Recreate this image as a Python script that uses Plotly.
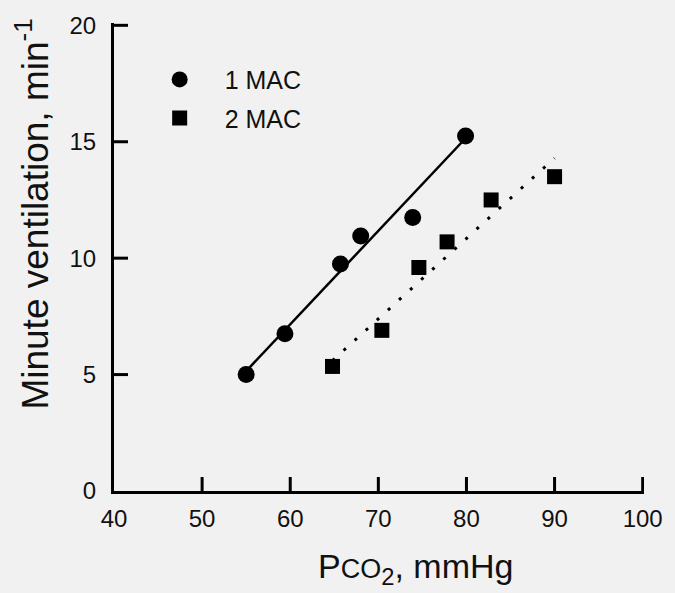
import plotly.graph_objects as go

# Data
mac1_x = [55.0, 59.4, 65.7, 68.0, 73.9, 79.9]
mac1_y = [5.0, 6.75, 9.75, 10.95, 11.75, 15.25]
mac2_x = [64.8, 70.4, 74.6, 77.8, 82.8, 90.0]
mac2_y = [5.35, 6.9, 9.6, 10.7, 12.5, 13.5]

fit1_x = [55.0, 79.9]
fit1_y = [5.15, 15.15]
fit2_x = [64.8, 90.0]
fit2_y = [5.6, 14.3]

x_ticks = [40, 50, 60, 70, 80, 90, 100]
y_ticks = [0, 5, 10, 15, 20]

FONT = "Liberation Sans, Arial, Helvetica, sans-serif"
BG = "#f1f1f1"
TICK_LEN = 14

fig = go.Figure()
fig.add_trace(go.Scatter(x=fit1_x, y=fit1_y, mode="lines",
                         line=dict(color="black", width=2.5),
                         showlegend=False, hoverinfo="skip"))
fig.add_trace(go.Scatter(x=fit2_x, y=fit2_y, mode="lines",
                         line=dict(color="black", width=3, dash="3px,12px"),
                         showlegend=False, hoverinfo="skip"))
fig.add_trace(go.Scatter(x=mac1_x, y=mac1_y, mode="markers", name="1 MAC",
                         legendgroup="a",
                         marker=dict(symbol="circle", size=17, color="black")))
fig.add_trace(go.Scatter(x=mac2_x, y=mac2_y, mode="markers", name="2 MAC",
                         legendgroup="b",
                         marker=dict(symbol="square", size=15, color="black")))

# inward tick marks at the axis tick values (the origin ones sit on the axis lines)
for v in x_ticks[1:]:
    fig.add_shape(type="line", xref="x", yref="paper", x0=v, x1=v,
                  ysizemode="pixel", yanchor=0, y0=0, y1=TICK_LEN,
                  line=dict(color="black", width=3), layer="above")
for v in y_ticks[1:]:
    fig.add_shape(type="line", yref="y", xref="paper", y0=v, y1=v,
                  xsizemode="pixel", xanchor=0, x0=0, x1=TICK_LEN,
                  line=dict(color="black", width=3), layer="above")

fig.update_layout(
    width=675, height=593,
    margin=dict(l=114, r=24, t=21, b=102),
    paper_bgcolor=BG, plot_bgcolor=BG,
    showlegend=True,
    legend=dict(x=0.039, y=0.928, xanchor="left", yanchor="top",
                bgcolor="rgba(0,0,0,0)", itemwidth=80,
                tracegroupgap=3, traceorder="grouped",
                font=dict(family=FONT, size=25, color="#111")),
    xaxis=dict(range=[40, 100.15], tickmode="array", tickvals=x_ticks,
               ticks="", showgrid=False, zeroline=False, showline=True,
               linecolor="#000000", linewidth=3, ticklabelstandoff=4,
               tickfont=dict(family=FONT, size=24, color="#111")),
    yaxis=dict(range=[0, 20.1], tickmode="array", tickvals=y_ticks,
               ticks="", showgrid=False, zeroline=False, showline=True,
               linecolor="#000000", linewidth=3, ticklabelstandoff=10,
               tickfont=dict(family=FONT, size=24, color="#111")),
)

fig.add_annotation(text="Minute ventilation, min<sup>-1</sup>",
                   xref="paper", yref="paper", x=0, y=0.5906,
                   xshift=-81, xanchor="center", yanchor="middle",
                   textangle=-90, showarrow=False,
                   font=dict(family=FONT, size=37, color="#111"))
fig.add_annotation(text="P<span style='font-size:27px'>CO</span><sub>2</sub>, mmHg",
                   xref="paper", yref="paper", x=0.569, y=0,
                   yshift=-77, xanchor="center", yanchor="middle",
                   showarrow=False,
                   font=dict(family=FONT, size=34, color="#111"))

fig.write_html("out.html",
               config={"displayModeBar": False},
               post_script="document.body.style.margin='0';"
                           "document.documentElement.style.background='" + BG + "';")
